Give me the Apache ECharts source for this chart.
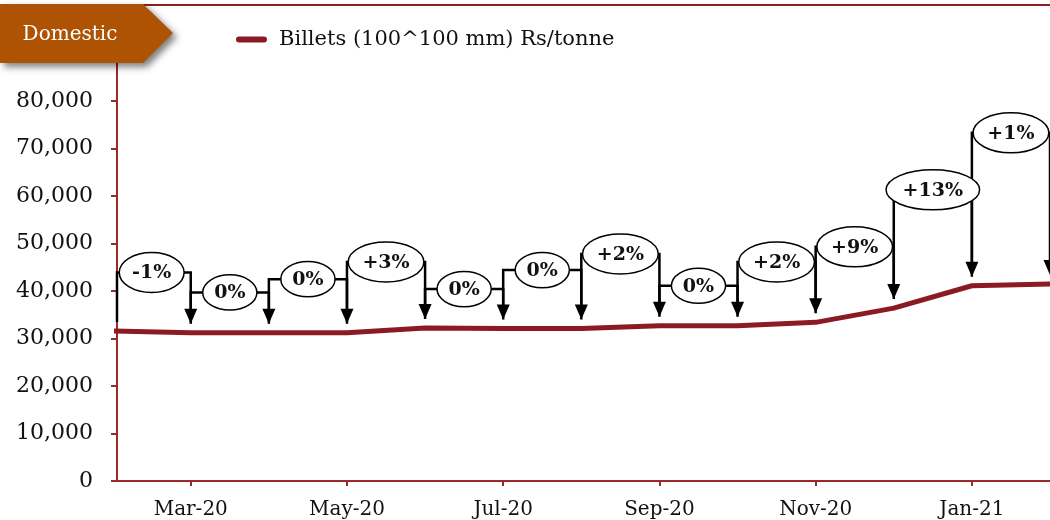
<!DOCTYPE html>
<html>
<head>
<meta charset="utf-8">
<script src="https://cdn.jsdelivr.net/npm/echarts@6/dist/echarts.min.js"></script>
<style>
html, body { margin: 0; padding: 0; background: #fff; }
#main { width: 1050px; height: 520px; }
</style>
</head>
<body>
<div id="main"></div>
<script>
var months = ['Feb-20', 'Mar-20', 'Apr-20', 'May-20', 'Jun-20', 'Jul-20', 'Aug-20',
              'Sep-20', 'Oct-20', 'Nov-20', 'Dec-20', 'Jan-21', 'Feb-21'];
var billets = [31600, 31200, 31200, 31200, 32200, 32100, 32100, 32700, 32700, 33400, 36400, 41100, 41500];
// month on month change, one callout per month from Mar-20
var changeLabels = ['-1%', '0%', '0%', '+3%', '0%', '0%', '+2%', '0%', '+2%', '+9%', '+13%', '+1%'];
// height (Rs/tonne) where each callout bubble sits
var changeLevels = [43900, 39700, 42500, 46100, 40400, 44400, 47800, 41100, 46100, 49300, 61300, 73300];
// labelled months (index into months)
var tickMonths = [1, 3, 5, 7, 9, 11];
// x range in month index: the plot starts just after Feb-20
var xStart = 0.056;
var xEnd = 12;

var SERIF = '"DejaVu Serif", Georgia, serif';
var RED = '#8C1A24';
var AXIS = '#9A2A2A';
var BUBBLE_FONT = 19;

var measureCtx = document.createElement('canvas').getContext('2d');
measureCtx.font = 'bold ' + BUBBLE_FONT + 'px "DejaVu Serif"';

// elbow connector + arrow for a callout
function renderConnector(params, api) {
    var i = params.dataIndex + 1;
    var prev = api.coord([i - 1, billets[i - 1]]);
    var cur = api.coord([i, billets[i]]);
    var yc = api.coord([i, changeLevels[i - 1]])[1];
    var gap = 9, headH = 15, headW = 13;
    var tip = cur[1] - gap;
    var x0 = Math.max(prev[0], params.coordSys.x);
    return {
        type: 'group',
        children: [
            {
                type: 'polyline',
                shape: { points: [[x0, prev[1] - gap], [x0, yc], [cur[0], yc], [cur[0], tip - headH + 1]] },
                style: { stroke: '#000', lineWidth: 2.5, fill: 'none' }
            },
            {
                type: 'polygon',
                shape: { points: [[cur[0] - headW / 2, tip - headH], [cur[0] + headW / 2, tip - headH], [cur[0], tip]] },
                style: { fill: '#000' }
            }
        ]
    };
}

// the white oval with the % text
function renderBubble(params, api) {
    var i = params.dataIndex + 1;
    var c = api.coord([i - 0.5, changeLevels[i - 1]]);
    var text = changeLabels[i - 1];
    var tw = measureCtx.measureText(text).width;
    var w = tw * 1.35 + 12;
    var h = Math.min(40, w * 0.5 + 8);
    return {
        type: 'group',
        children: [
            {
                type: 'ellipse',
                shape: { cx: c[0], cy: c[1], rx: w / 2, ry: h / 2 },
                style: { fill: '#fff', stroke: '#000', lineWidth: 1.5 }
            },
            {
                type: 'text',
                style: {
                    text: text, x: c[0], y: c[1] + 1, align: 'center', verticalAlign: 'middle',
                    fontFamily: SERIF, fontSize: BUBBLE_FONT, fontWeight: 'bold', fill: '#111'
                }
            }
        ]
    };
}

var lineData = [];
for (var m = 0; m < billets.length; m++) {
    lineData.push([m, billets[m]]);
}
var bubbleData = [];
for (var k = 0; k < changeLabels.length; k++) {
    bubbleData.push([k + 1, changeLevels[k]]);
}

var option = {
    animation: false,
    backgroundColor: '#fff',
    grid: { left: 117, right: -3, top: 6, bottom: 39 },
    legend: {
        data: ['Billets (100^100 mm) Rs/tonne'],
        left: 231,
        top: 24,
        itemWidth: 31,
        itemHeight: 6,
        icon: 'path://M3,0 L28,0 A3,3 0 0 1 28,6 L3,6 A3,3 0 0 1 3,0 Z',
        textStyle: { fontFamily: SERIF, fontSize: 21, color: '#111', padding: [0, 0, 0, 7] }
    },
    xAxis: {
        type: 'value',
        min: xStart,
        max: xEnd,
        axisLine: { lineStyle: { color: AXIS, width: 2 } },
        axisTick: { show: true, length: 5, customValues: tickMonths, lineStyle: { color: AXIS, width: 2 } },
        axisLabel: {
            customValues: tickMonths,
            fontFamily: SERIF, fontSize: 20, color: '#111', margin: 19,
            formatter: function (v) { return months[Math.round(v)]; }
        },
        splitLine: { show: false }
    },
    yAxis: {
        type: 'value',
        min: 0,
        max: 100000,
        interval: 10000,
        axisLine: { show: true, lineStyle: { color: AXIS, width: 2 } },
        axisTick: { show: true, length: 6, lineStyle: { color: AXIS, width: 2 } },
        axisLabel: {
            showMaxLabel: false,
            fontFamily: SERIF, fontSize: 22, color: '#111', margin: 24,
            formatter: function (v) { return v.toLocaleString('en-US'); }
        },
        splitLine: { show: false }
    },
    series: [
        {
            name: 'Billets (100^100 mm) Rs/tonne',
            type: 'line',
            data: lineData,
            symbol: 'none',
            clip: true,
            lineStyle: { color: RED, width: 5 },
            itemStyle: { color: RED },
            z: 2
        },
        {
            type: 'custom',
            renderItem: renderConnector,
            data: bubbleData,
            encode: { x: 0, y: 1 },
            silent: true,
            z: 3
        },
        {
            type: 'custom',
            renderItem: renderBubble,
            data: bubbleData,
            encode: { x: 0, y: 1 },
            silent: true,
            z: 4
        }
    ],
    graphic: [
        {
            type: 'line',
            shape: { x1: 0, y1: 5, x2: 1050, y2: 5 },
            style: { stroke: '#8B2222', lineWidth: 2 },
            z: 10
        },
        {
            type: 'polygon',
            shape: { points: [[0, 4], [143, 4], [173, 33], [143, 63], [0, 63]] },
            style: {
                fill: '#AE5204', shadowBlur: 7, shadowOffsetX: 4, shadowOffsetY: 4,
                shadowColor: 'rgba(0,0,0,0.5)'
            },
            z: 20
        },
        {
            type: 'text',
            x: 70,
            y: 35,
            style: {
                text: 'Domestic', align: 'center', verticalAlign: 'middle',
                fontFamily: SERIF, fontSize: 20, fill: '#fff'
            },
            z: 21
        }
    ]
};

var chart = echarts.init(document.getElementById('main'), null, { renderer: 'canvas' });
chart.setOption(option);
</script>
</body>
</html>
